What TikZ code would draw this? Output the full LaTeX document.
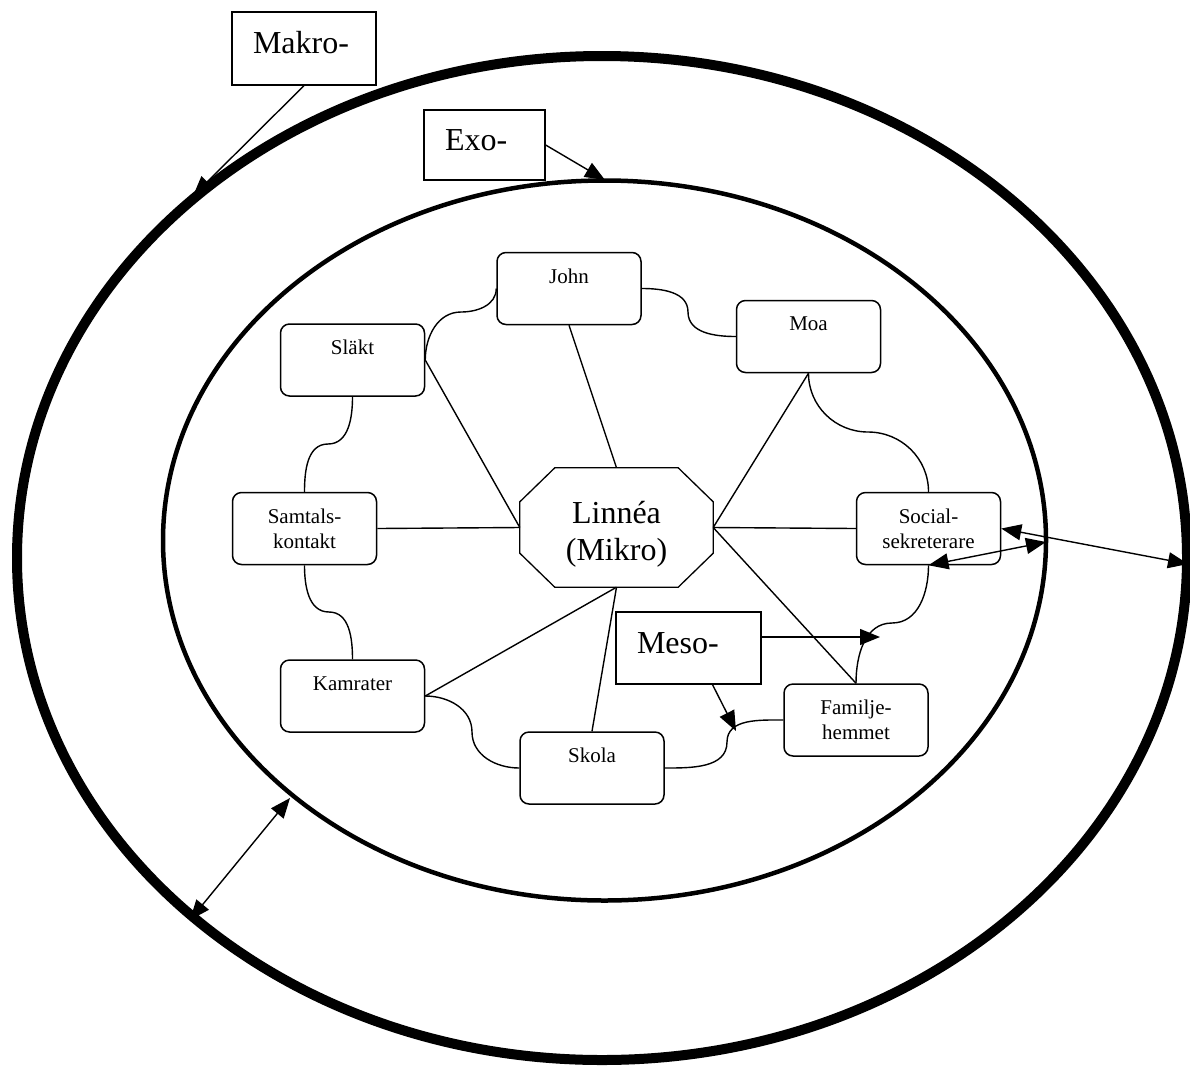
\documentclass[tikz,border=0pt]{standalone}
\usepackage{fontspec}
\setmainfont{Liberation Serif}
\usetikzlibrary{arrows.meta}
\begin{document}
\begin{tikzpicture}[x=1pt,y=1pt,
  person/.style={draw, line width=1.5pt, rounded corners=9pt, minimum width=144pt, minimum height=72pt, inner sep=0pt, align=center, font=\fontsize{21}{25}\selectfont},
  levelbox/.style={draw, line width=1.3pt, minimum height=72pt, inner xsep=21pt, inner ysep=0pt, align=left, font=\fontsize{32}{37}\selectfont, text height=22pt, text depth=12pt},
  link/.style={line width=1.4pt},
  tip/.style={-{Triangle[length=20pt,width=16pt]}},
  both/.style={{Triangle[length=20pt,width=16pt]}-{Triangle[length=20pt,width=16pt]}},
]
\useasboundingbox (0,0) rectangle (1190,-1066);
% ellipses
\draw[line width=10pt] (602,-558) ellipse [x radius=585pt, y radius=502pt];
\draw[line width=4.5pt] (604.5,-540.5) ellipse [x radius=441.5pt, y radius=360pt];

% level boxes
\node[levelbox, text width=102pt, minimum height=73pt] (makro) at (304,-48.5) {Makro-};
\node[levelbox, text width=79pt, minimum height=70pt] (exo) at (484.5,-145) {Exo-};
\node[levelbox, text width=103pt] (meso) at (688.5,-648) {Meso-};

% persons
\node[person] (slakt) at (352.5,-360) {Släkt\\\mbox{}};
\node[person] (john) at (569,-288.5) {John\\\mbox{}};
\node[person] (moa) at (808.5,-336.5) {Moa\\\mbox{}};
\node[person] (samtals) at (304.5,-528.5) {Samtals-\\kontakt};
\node[person] (social) at (928.5,-528.5) {Social-\\sekreterare};
\node[person] (kamrater) at (352.5,-696) {Kamrater\\\mbox{}};
\node[person] (skola) at (592,-768) {Skola\\\mbox{}};
\node[person] (familje) at (856,-720) {Familje-\\hemmet};

% centre octagon
\node[minimum width=193pt, minimum height=119pt, inner sep=0pt,
      label={[font=\fontsize{32}{37}\selectfont, align=center, yshift=-6.5pt]center:Linnéa\\(Mikro)}] (linnea) at (616.5,-527.5) {};
\draw[line width=1.3pt] ([xshift=35pt]linnea.north west) -- ([xshift=-35pt]linnea.north east)
  -- ([yshift=-34pt]linnea.north east) -- ([yshift=34pt]linnea.south east)
  -- ([xshift=-35pt]linnea.south east) -- ([xshift=35pt]linnea.south west)
  -- ([yshift=34pt]linnea.south west) -- ([yshift=-34pt]linnea.north west) -- cycle;

% spokes
\draw[link] (slakt.east) -- (linnea.west);
\draw[link] (john.south) -- (linnea.north);
\draw[link] (moa.south) -- (linnea.east);
\draw[link] (samtals.east) -- (linnea.west);
\draw[link] (social.west) -- (linnea.east);
\draw[link] (familje.north) -- (linnea.east);
\draw[link] (skola.north) -- (linnea.south);
\draw[link] (kamrater.east) -- (linnea.south);

% curved ring connectors
\coordinate (m1) at (461,-312);
\coordinate (m2) at (688,-312);
\coordinate (m3) at (868,-432);
\coordinate (m4) at (892,-623);
\coordinate (m5) at (727,-742);
\coordinate (m6) at (472,-732);
\coordinate (m7) at (329,-612);
\coordinate (m8) at (328,-444);
\draw[link] (slakt.east) to[out=90,in=180] (m1) to[out=0,in=-90] (john.west);
\draw[link] (john.east) to[out=0,in=90] (m2) to[out=-90,in=180] (moa.west);
\draw[link] (moa.south) to[out=-90,in=180] (m3) to[out=0,in=90] (social.north);
\draw[link] (social.south) to[out=-90,in=0] (m4) to[out=180,in=90] (familje.north);
\draw[link] (familje.west) to[out=180,in=90] (m5) to[out=-90,in=0] (skola.east);
\draw[link] (kamrater.east) to[out=0,in=90] (m6) to[out=-90,in=180] (skola.west);
\draw[link] (samtals.south) to[out=-90,in=180] (m7) to[out=0,in=90] (kamrater.north);
\draw[link] (slakt.south) to[out=-90,in=0] (m8) to[out=180,in=90] (samtals.north);

% arrows
\coordinate (makrotip) at (193,-196);
\coordinate (exotip) at (605,-180);
\coordinate (mesotipA) at (880,-637);
\coordinate (mesotipB) at (736,-731);
\coordinate (outerE) at (1188,-564);
\coordinate (middleE) at (1046,-542);
\coordinate (middleSW) at (290,-798);
\coordinate (outerSW) at (190,-920);
\draw[link,tip] (makro.south) -- (makrotip);
\draw[link,tip] (exo.east) -- (exotip);
\draw[link,tip] ([yshift=11pt]meso.east) -- (mesotipA);
\draw[link,tip] ([xshift=24pt]meso.south) -- (mesotipB);
\draw[link,both] (social.east) -- (outerE);
\draw[link,both] (social.south) -- (middleE);
\draw[link,both] (middleSW) -- (outerSW);
\end{tikzpicture}
\end{document}
